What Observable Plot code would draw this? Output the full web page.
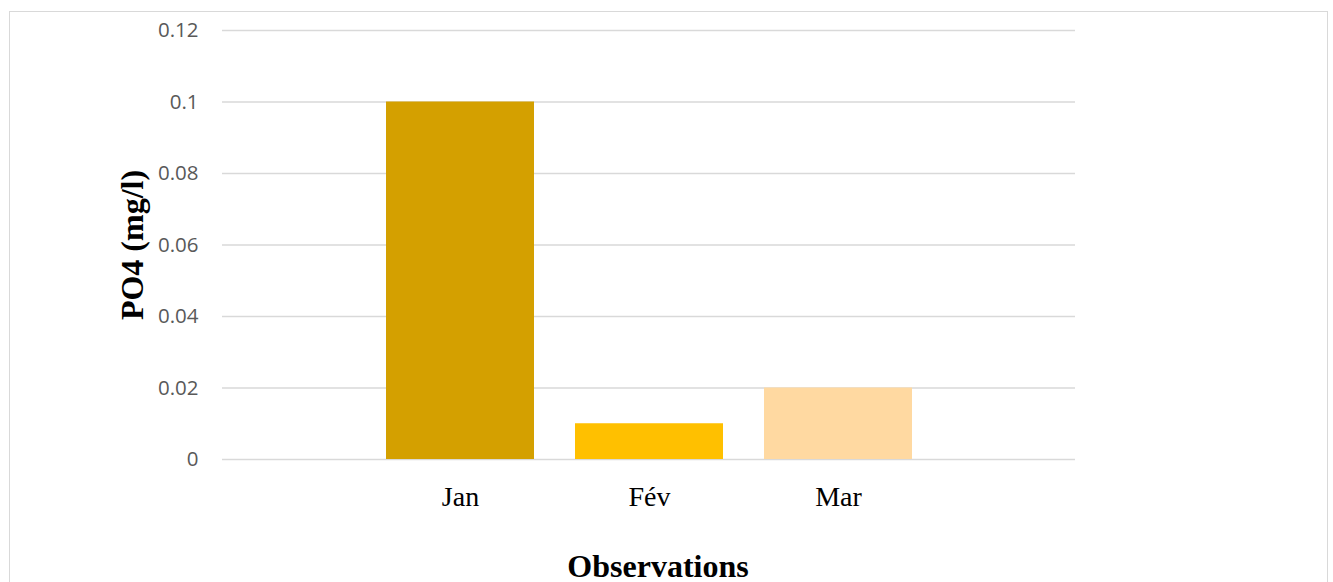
<!DOCTYPE html>
<html>
<head>
<meta charset="utf-8">
<script src="https://cdn.jsdelivr.net/npm/d3@7"></script>
<script src="https://cdn.jsdelivr.net/npm/@observablehq/plot@0.6"></script>
<style>
  html, body { margin: 0; padding: 0; background: #fff; overflow: hidden; }
  #wrap { position: relative; width: 1333px; height: 582px; overflow: hidden; }
  #border { position: absolute; left: 9px; top: 11px; width: 1319px; height: 640px; border: 1.5px solid #d9d9d9; box-sizing: border-box; }
  #chart { position: absolute; left: 0; top: 0; }
</style>
</head>
<body>
<div id="wrap"><div id="border"></div><div id="chart"></div></div>
<script>
const months = ["Jan", "Fév", "Mar"];
const po4 = [0.1, 0.01, 0.02];
const yTicks = [0, 0.02, 0.04, 0.06, 0.08, 0.1, 0.12];
const barColors = ["#D4A000", "#FFC000", "#FFD9A1"];
const yLabel = "PO4 (mg/l)";
const xLabel = "Observations";

const data = months.map((m, i) => ({month: m, value: po4[i]}));

const chart = Plot.plot({
  width: 1333,
  height: 582,
  marginLeft: 222,
  marginRight: 258,
  marginTop: 30,
  marginBottom: 123,
  style: {background: "transparent", fontFamily: "Liberation Serif"},
  x: {domain: months, paddingInner: 0.217, paddingOuter: 0.86, label: null},
  y: {domain: [0, 0.12], label: null},
  color: {domain: months, range: barColors},
  marks: [
    Plot.gridY(yTicks, {stroke: "#d9d9d9", strokeOpacity: 1, strokeWidth: 1.5}),
    Plot.barY(data, {x: "month", y: "value", fill: "month"}),
    Plot.axisY({ticks: yTicks, tickSize: 0, tickPadding: 24, fontSize: 20.5, fontFamily: "Open Sans", color: "#595959",
      tickFormat: d => String(+d.toFixed(2)), label: null}),
    Plot.axisX({tickSize: 0, tickPadding: 27, fontSize: 28, fontFamily: "Liberation Serif", color: "#000", label: null}),
    Plot.text([yLabel], {frameAnchor: "left", textAnchor: "middle", lineAnchor: "middle", dx: -90, rotate: -90, fontSize: 32, fontWeight: "bold", fontFamily: "Liberation Serif", fill: "#000"}),
    Plot.text([xLabel], {frameAnchor: "bottom", textAnchor: "middle", lineAnchor: "middle", dx: 9, dy: 107, fontSize: 32, fontWeight: "bold", fontFamily: "Liberation Serif", fill: "#000"})
  ]
});
document.getElementById("chart").appendChild(chart);
</script>
</body>
</html>
